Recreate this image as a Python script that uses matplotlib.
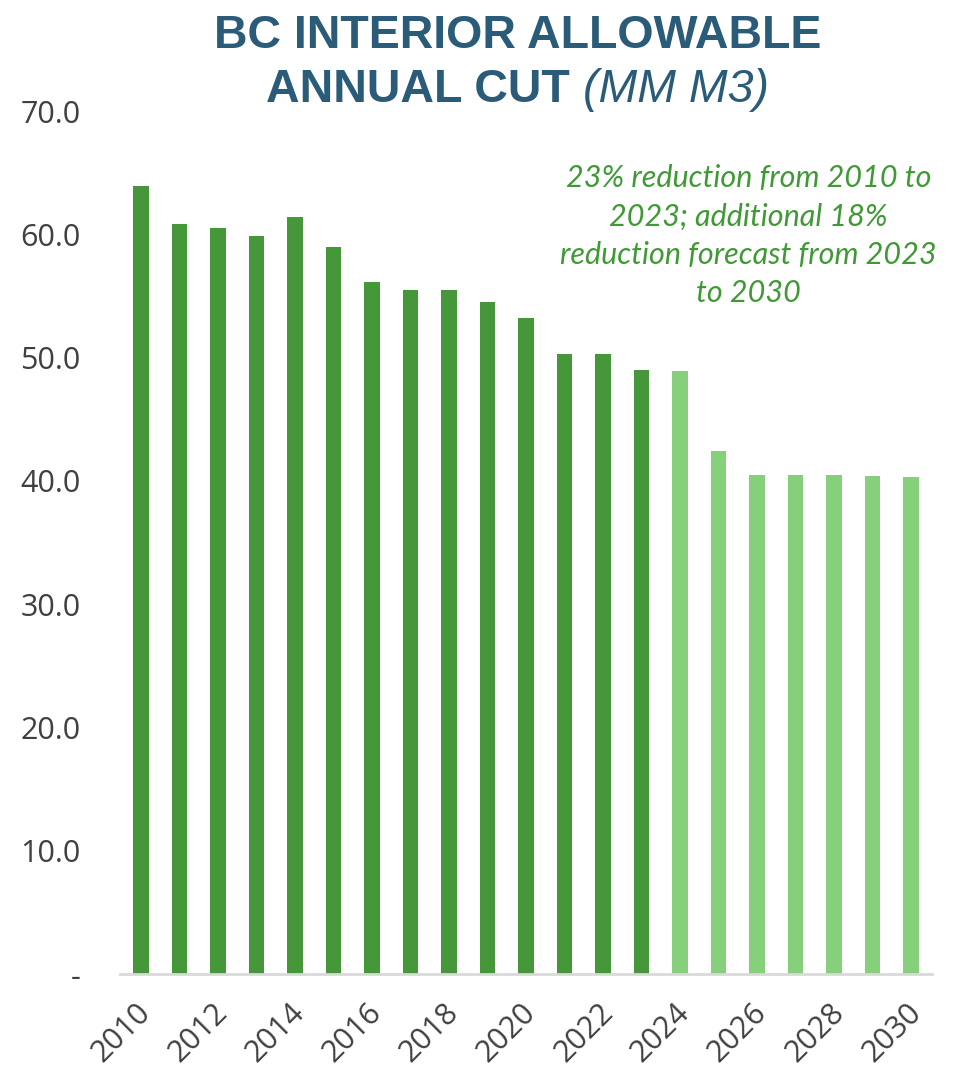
import matplotlib
matplotlib.use('Agg')
import matplotlib.pyplot as plt
import matplotlib.transforms as mtransforms
import numpy as np

# データ
years = list(range(2010, 2031))
aac = [63.9, 60.8, 60.5, 59.9, 61.4, 59.0, 56.1, 55.5, 55.5, 54.5, 53.2,
       50.3, 50.3, 49.0, 48.9, 42.4, 40.5, 40.45, 40.45, 40.4, 40.3]
first_forecast_year = 2024
ytick_vals = [0, 10, 20, 30, 40, 50, 60, 70]
ytick_labels = ['-', '10.0', '20.0', '30.0', '40.0', '50.0', '60.0', '70.0']

dark_green = '#46973a'
light_green = '#86cf7b'
title_color = '#2a5b78'
tick_color = '#404040'

fig = plt.figure(figsize=(9.57, 10.74), dpi=100)
ax = fig.add_axes([0.125, 0.0931, 0.849, 0.8035])

x = np.arange(len(years))
colors = [light_green if y >= first_forecast_year else dark_green for y in years]
ax.bar(x, aac, width=0.4, color=colors, edgecolor='none')

ax.set_xlim(-0.55, len(years) - 0.45)
ax.set_ylim(0, 70)
ax.set_yticks(ytick_vals)
ax.set_yticklabels(ytick_labels, fontsize=22, color=tick_color, family='Open Sans')

ax.set_xticks(x[::2])
ax.set_xticklabels([str(y) for y in years[::2]], rotation=45, ha='right',
                   rotation_mode='anchor', fontsize=22, color=tick_color,
                   family='Open Sans')
ax.tick_params(axis='both', length=0)
ax.tick_params(axis='y', pad=28)
ax.tick_params(axis='x', pad=17)

# ラベルを少し左へずらす
shift = mtransforms.ScaledTranslation(-0.05, 0, fig.dpi_scale_trans)
for lbl in ax.get_xticklabels():
    lbl.set_transform(lbl.get_transform() + shift)

# 枠線
for s in ['top', 'right', 'left']:
    ax.spines[s].set_visible(False)
ax.spines['bottom'].set_color('#d9d9d9')
ax.spines['bottom'].set_linewidth(2)

# タイトル
fig.text(0.541, 0.955, 'BC INTERIOR ALLOWABLE', ha='center', va='baseline',
         fontsize=33.5, fontweight='bold', color=title_color, family='Liberation Sans')
t1 = fig.text(0.0, 0.905, 'ANNUAL CUT ', ha='left', va='baseline',
              fontsize=33.5, fontweight='bold', color=title_color, family='Liberation Sans')
t2 = fig.text(0.0, 0.905, '(MM M3)', ha='left', va='baseline',
              fontsize=33.5, style='italic', color=title_color, family='Liberation Sans')
fig.canvas.draw()
r = fig.canvas.get_renderer()
w1 = t1.get_window_extent(r).width / fig.bbox.width
w2 = t2.get_window_extent(r).width / fig.bbox.width
start = 0.541 - (w1 + w2) / 2
t1.set_x(start)
t2.set_x(start + w1)

# 注記
ax.text(0.782, 0.847, '23% reduction from 2010 to\n2023; additional 18%\nreduction forecast from 2023\nto 2030',
        transform=fig.transFigure, ha='center', va='top', fontsize=22,
        style='italic', color='#3f9a35', family='Lato', linespacing=1.44)

plt.savefig('out.png', dpi=100)
